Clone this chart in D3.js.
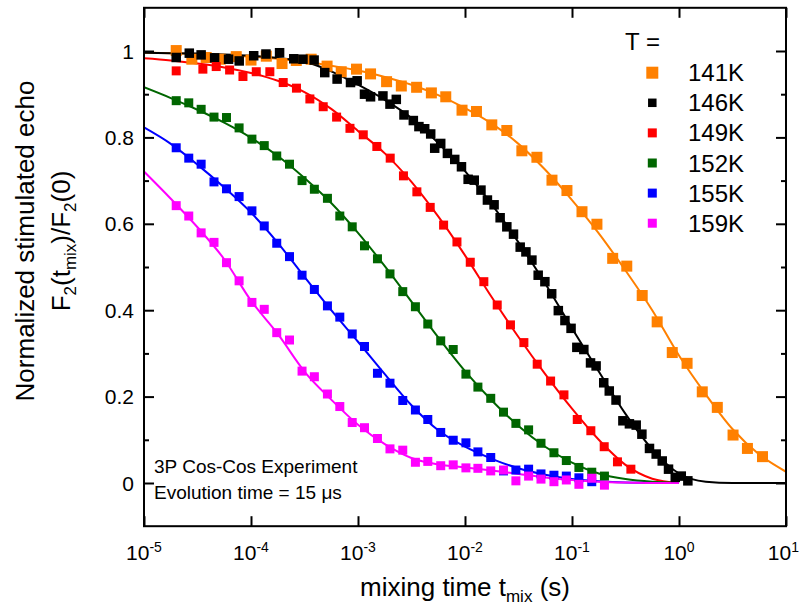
<!DOCTYPE html>
<html><head><meta charset="utf-8">
<script src="https://cdn.jsdelivr.net/npm/d3@7"></script>
<style>
body{margin:0;background:#fff}
text{font-family:"Liberation Sans",Arial,Helvetica,sans-serif;fill:#000}
</style>
</head><body>
<svg id="chart" width="800" height="607"></svg>
<script>
// ---------------- data ----------------
const seriesNames = ["141K", "146K", "149K", "152K", "155K", "159K"];
const seriesColors = ["#FF8000", "#000000", "#FF0000", "#006600", "#0000FF", "#FF00FF"];

// mixing times (s)
const times141 = [2.00e-5, 2.80e-5, 3.81e-5, 5.15e-5, 7.28e-5, 1.00e-4, 1.39e-4, 1.95e-4, 2.65e-4, 3.65e-4,
  5.14e-4, 6.97e-4, 9.68e-4, 1.31e-3, 1.85e-3, 2.54e-3, 3.53e-3, 4.85e-3, 6.61e-3, 9.38e-3,
  1.28e-2, 1.78e-2, 2.46e-2, 3.40e-2, 4.70e-2, 6.50e-2, 8.97e-2, 0.124, 0.171, 0.240,
  0.325, 0.453, 0.625, 0.865, 1.19, 1.65, 2.28, 3.20, 4.36, 6.03];
const values141 = [1.001, 0.981, 0.985, 0.981, 0.987, 0.979, 0.988, 0.971, 0.978, 0.981,
  0.965, 0.952, 0.958, 0.947, 0.929, 0.919, 0.916, 0.903, 0.894, 0.863,
  0.860, 0.829, 0.816, 0.769, 0.754, 0.701, 0.677, 0.628, 0.599, 0.520,
  0.502, 0.434, 0.373, 0.302, 0.277, 0.211, 0.175, 0.111, 0.080, 0.061];

const times146 = [2.00e-5, 2.65e-5, 3.42e-5, 4.57e-5, 6.17e-5, 7.76e-5, 1.06e-4, 1.38e-4, 1.85e-4, 2.51e-4,
  3.06e-4, 3.89e-4, 4.89e-4, 6.38e-4, 8.51e-4, 9.82e-4, 1.15e-3, 1.31e-3, 1.71e-3, 1.99e-3,
  2.28e-3, 2.69e-3, 3.29e-3, 3.71e-3, 4.20e-3, 4.78e-3, 5.21e-3, 5.93e-3, 6.85e-3, 8.02e-3,
  9.27e-3, 1.07e-2, 1.22e-2, 1.41e-2, 1.62e-2, 1.87e-2, 2.13e-2, 2.46e-2, 2.84e-2, 3.28e-2,
  3.71e-2, 4.22e-2, 4.83e-2, 5.58e-2, 6.46e-2, 7.45e-2, 8.59e-2, 9.80e-2, 0.111, 0.129,
  0.149, 0.168, 0.198, 0.223, 0.258, 0.299, 0.344, 0.398, 0.450, 0.530,
  0.612, 0.697, 0.798, 0.923, 1.05, 1.21];
const values146 = [0.985, 0.995, 0.991, 0.984, 0.981, 0.977, 0.989, 0.993, 0.996, 0.982,
  0.981, 0.979, 0.950, 0.935, 0.927, 0.931, 0.900, 0.894, 0.896, 0.877,
  0.888, 0.852, 0.839, 0.825, 0.820, 0.808, 0.775, 0.786, 0.763, 0.749,
  0.732, 0.703, 0.701, 0.678, 0.655, 0.644, 0.614, 0.593, 0.576, 0.546,
  0.535, 0.516, 0.481, 0.466, 0.438, 0.399, 0.376, 0.358, 0.314, 0.309,
  0.278, 0.271, 0.232, 0.213, 0.192, 0.144, 0.137, 0.134, 0.113, 0.080,
  0.067, 0.051, 0.032, 0.013, 0.016, 0.005];

const times149 = [2.00e-5, 3.55e-5, 4.73e-5, 6.31e-5, 8.41e-5, 1.12e-4, 1.50e-4, 2.00e-4, 2.66e-4, 3.55e-4,
  4.73e-4, 6.31e-4, 8.41e-4, 1.12e-3, 1.50e-3, 2.00e-3, 2.66e-3, 3.55e-3, 4.73e-3, 6.31e-3,
  8.41e-3, 1.12e-2, 1.50e-2, 2.00e-2, 2.66e-2, 3.55e-2, 4.73e-2, 6.31e-2, 8.41e-2, 0.112,
  0.150, 0.200, 0.266, 0.355];
const values149 = [0.954, 0.958, 0.964, 0.956, 0.941, 0.952, 0.952, 0.927, 0.914, 0.889,
  0.871, 0.847, 0.821, 0.806, 0.779, 0.752, 0.711, 0.674, 0.638, 0.597,
  0.558, 0.511, 0.466, 0.412, 0.366, 0.325, 0.275, 0.236, 0.204, 0.147,
  0.121, 0.084, 0.049, 0.032];

// shared time grid of the 152K, 155K and 159K runs
const timesA = [2.00e-5, 2.62e-5, 3.42e-5, 4.51e-5, 5.90e-5, 7.74e-5, 1.02e-4, 1.33e-4, 1.74e-4, 2.29e-4,
  3.00e-4, 3.91e-4, 5.18e-4, 6.76e-4, 8.83e-4, 1.15e-3, 1.52e-3, 1.99e-3, 2.62e-3, 3.44e-3,
  4.49e-3, 5.93e-3, 7.76e-3, 1.02e-2, 1.32e-2, 1.74e-2, 2.29e-2, 2.99e-2, 3.93e-2, 5.13e-2,
  6.78e-2, 8.85e-2, 0.116, 0.153, 0.201];
const values152 = [0.885, 0.880, 0.865, 0.847, 0.846, 0.822, 0.796, 0.781, 0.757, 0.738,
  0.700, 0.680, 0.659, 0.618, 0.593, 0.549, 0.519, 0.484, 0.443, 0.408,
  0.368, 0.329, 0.309, 0.252, 0.222, 0.196, 0.164, 0.138, 0.123, 0.092,
  0.070, 0.052, 0.036, 0.025, 0.016];
const values155 = [0.776, 0.752, 0.738, 0.697, 0.681, 0.663, 0.630, 0.595, 0.555, 0.524,
  0.481, 0.448, 0.410, 0.384, 0.345, 0.316, 0.254, 0.231, 0.191, 0.169,
  0.147, 0.117, 0.099, 0.093, 0.072, 0.059, 0.028, 0.030, 0.032, 0.021,
  0.018, 0.016, 0.012, 0.003];
const values159 = [0.642, 0.618, 0.579, 0.557, 0.510, 0.468, 0.418, 0.402, 0.348, 0.331,
  0.259, 0.246, 0.206, 0.177, 0.140, 0.128, 0.103, 0.079, 0.076, 0.048,
  0.050, 0.040, 0.042, 0.035, 0.034, 0.028, 0.030, 0.005, 0.016, 0.009,
  0.003, 0.007, -0.003, 0.011, -0.005];

// fit curves, read at quarter-decade steps
const fitTimes = [1e-5, 1.78e-5, 3.16e-5, 5.62e-5, 1e-4, 1.78e-4, 3.16e-4, 5.62e-4, 1e-3, 1.78e-3,
  3.16e-3, 5.62e-3, 1e-2, 1.78e-2, 3.16e-2, 5.62e-2, 0.1, 0.178, 0.316, 0.562,
  1, 1.78, 3.16, 5.62, 10];
const fit141 = [0.996, 0.995, 0.993, 0.990, 0.987, 0.982, 0.975, 0.966, 0.955, 0.940,
  0.922, 0.898, 0.868, 0.832, 0.785, 0.725, 0.655, 0.578, 0.492, 0.400,
  0.295, 0.205, 0.125, 0.066, 0.026];
const fit146 = [0.996, 0.995, 0.994, 0.992, 0.989, 0.984, 0.975, 0.953, 0.922, 0.887,
  0.845, 0.787, 0.722, 0.645, 0.557, 0.462, 0.358, 0.258, 0.160, 0.078,
  0.022, 0.003, 0.0, 0.0, 0.0];
const fit149 = [0.983, 0.978, 0.971, 0.962, 0.949, 0.931, 0.905, 0.866, 0.815, 0.763,
  0.697, 0.617, 0.527, 0.430, 0.338, 0.252, 0.172, 0.100, 0.042, 0.010, 0.0];
const fit152 = [0.916, 0.891, 0.864, 0.834, 0.799, 0.757, 0.706, 0.648, 0.579, 0.502,
  0.420, 0.337, 0.259, 0.191, 0.132, 0.084, 0.047, 0.022, 0.009, 0.003, 0.001];
const fit155 = [0.823, 0.785, 0.737, 0.684, 0.626, 0.556, 0.477, 0.400, 0.327, 0.252,
  0.180, 0.122, 0.084, 0.056, 0.034, 0.019, 0.009, 0.004, 0.001, 0.0, 0.0];
const fit159 = [0.721, 0.658, 0.592, 0.518, 0.422, 0.345, 0.258, 0.193, 0.135, 0.090,
  0.058, 0.043, 0.036, 0.029, 0.021, 0.013, 0.007, 0.003, 0.001, 0.0, 0.0];

const xTickExponents = ["-5", "-4", "-3", "-2", "-1", "0", "1"];
const yTickLabels = ["0", "0.2", "0.4", "0.6", "0.8", "1"];

// ---------------- build ----------------
const seriesTimes = [times141, times146, times149, timesA, timesA, timesA];
const seriesValues = [values141, values146, values149, values152, values155, values159];
const seriesFits = [fit141, fit146, fit149, fit152, fit155, fit159];
const markerSize = [11, 9.5, 9, 9, 9, 9];
const legendMarkerSize = [12, 8.5, 9, 9, 9, 9];

const svg = d3.select("#chart");
const L = 144, R = 786, T = 7.8, B = 526.2;
const x = d3.scaleLog().domain([1e-5, 10]).range([L, R]);
const y = d3.scaleLinear().domain([-0.1, 1.1]).range([B, T]);

svg.append("rect").attr("width", 800).attr("height", 607).attr("fill", "#fff");

svg.append("defs").append("clipPath").attr("id", "clip")
  .append("rect").attr("x", L).attr("y", T).attr("width", R - L).attr("height", B - T);

// fit lines
const line = d3.line().x(d => x(d.t)).y(d => y(d.v)).curve(d3.curveMonotoneX);
const gLines = svg.append("g").attr("clip-path", "url(#clip)");
seriesFits.forEach((f, i) => {
  const pts = f.map((v, k) => ({t: fitTimes[k], v}));
  gLines.append("path").attr("d", line(pts)).attr("fill", "none")
    .attr("stroke", seriesColors[i]).attr("stroke-width", 2);
});

// data markers
const gPts = svg.append("g");
seriesValues.forEach((vals, i) => {
  const pts = vals.map((v, k) => ({t: seriesTimes[i][k], v}));
  const s = markerSize[i];
  gPts.selectAll(null).data(pts).enter().append("rect")
    .attr("x", d => x(d.t) - s / 2).attr("y", d => y(d.v) - s / 2)
    .attr("width", s).attr("height", s).attr("fill", seriesColors[i]);
});

// axes (inward ticks)
const decades = [1e-5, 1e-4, 1e-3, 1e-2, 1e-1, 1, 10];
const majorY = [0, 0.2, 0.4, 0.6, 0.8, 1.0];
const minorY = [0.1, 0.3, 0.5, 0.7, 0.9];
const axStyle = g => { g.select(".domain").remove(); g.selectAll("line").attr("stroke", "#000").attr("stroke-width", 2); g.selectAll("text").remove(); };
svg.append("g").attr("transform", `translate(0,${B})`).call(d3.axisBottom(x).tickValues(decades).tickSize(-10)).call(axStyle);
svg.append("g").attr("transform", `translate(0,${T})`).call(d3.axisTop(x).tickValues(decades).tickSize(-10)).call(axStyle);
svg.append("g").attr("transform", `translate(${L},0)`).call(d3.axisLeft(y).tickValues(majorY).tickSize(-10)).call(axStyle);
svg.append("g").attr("transform", `translate(${L},0)`).call(d3.axisLeft(y).tickValues(minorY).tickSize(-5)).call(axStyle);
svg.append("g").attr("transform", `translate(${R},0)`).call(d3.axisRight(y).tickValues(majorY).tickSize(-10)).call(axStyle);
svg.append("g").attr("transform", `translate(${R},0)`).call(d3.axisRight(y).tickValues(minorY).tickSize(-5)).call(axStyle);

svg.append("rect").attr("x", L).attr("y", T).attr("width", R - L).attr("height", B - T)
  .attr("fill", "none").attr("stroke", "#000").attr("stroke-width", 2);

// tick labels
majorY.forEach((v, i) => {
  svg.append("text").attr("x", 134).attr("y", y(v)).attr("dy", "0.36em")
    .attr("text-anchor", "end").attr("font-size", 21).text(yTickLabels[i]);
});
decades.forEach((d, i) => {
  const last = i === decades.length - 1;
  const t = svg.append("text").attr("x", last ? 799 : x(d)).attr("y", 560)
    .attr("text-anchor", last ? "end" : "middle").attr("font-size", 21);
  t.append("tspan").text("10");
  t.append("tspan").attr("dy", -8).attr("font-size", 14).text(xTickExponents[i]);
});

// axis titles
const xt = svg.append("text").attr("x", (L + R) / 2).attr("y", 596)
  .attr("text-anchor", "middle").attr("font-size", 26);
xt.append("tspan").text("mixing time t");
xt.append("tspan").attr("dy", 6).attr("font-size", 17).text("mix");
xt.append("tspan").attr("dy", -6).text(" (s)");

svg.append("text").attr("transform", "translate(34,241) rotate(-90)")
  .attr("text-anchor", "middle").attr("font-size", 26).text("Normalized stimulated echo");
const yt = svg.append("text").attr("transform", "translate(70,241) rotate(-90)")
  .attr("text-anchor", "middle").attr("font-size", 26);
yt.append("tspan").text("F");
yt.append("tspan").attr("dy", 6).attr("font-size", 17).text("2");
yt.append("tspan").attr("dy", -6).text("(t");
yt.append("tspan").attr("dy", 6).attr("font-size", 17).text("mix");
yt.append("tspan").attr("dy", -6).text(")/F");
yt.append("tspan").attr("dy", 6).attr("font-size", 17).text("2");
yt.append("tspan").attr("dy", -6).text("(0)");

// legend
svg.append("text").attr("x", 625).attr("y", 50).attr("font-size", 24).text("T =");
seriesNames.forEach((n, i) => {
  const cy = 72.7 + i * 30.1;
  const s = legendMarkerSize[i];
  svg.append("rect").attr("x", 652.3 - s / 2).attr("y", cy - s / 2).attr("width", s).attr("height", s)
    .attr("fill", seriesColors[i]);
  svg.append("text").attr("x", 688).attr("y", cy + 8.5).attr("font-size", 24).text(n);
});

// annotation
svg.append("text").attr("x", 154).attr("y", 472.5).attr("font-size", 19).text("3P Cos-Cos Experiment");
svg.append("text").attr("x", 154).attr("y", 499).attr("font-size", 19).text("Evolution time = 15 \u03BCs");
</script>
</body></html>
